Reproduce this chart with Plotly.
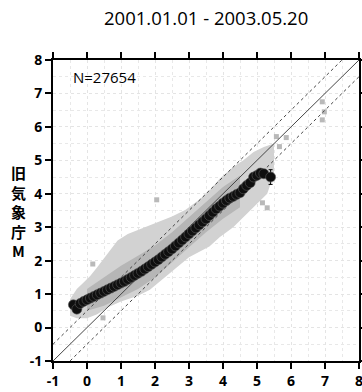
import plotly.graph_objects as go

# Binned mean of old-JMA magnitude per 0.1 step of the new magnitude
mean_x = [-0.4, -0.3, -0.2, -0.1, 0.0, 0.1, 0.2, 0.3, 0.4, 0.5, 0.6, 0.7, 0.8, 0.9,
          1.0, 1.1, 1.2, 1.3, 1.4, 1.5, 1.6, 1.7, 1.8, 1.9, 2.0, 2.1, 2.2, 2.3, 2.4,
          2.5, 2.6, 2.7, 2.8, 2.9, 3.0, 3.1, 3.2, 3.3, 3.4, 3.5, 3.6, 3.7, 3.8, 3.9,
          4.0, 4.1, 4.2, 4.3, 4.4, 4.5, 4.6, 4.7, 4.8, 4.9, 5.0, 5.1, 5.2, 5.4]
mean_y = [0.68, 0.55, 0.72, 0.78, 0.83, 0.88, 0.93, 0.98, 1.03, 1.08, 1.13, 1.18, 1.23, 1.28,
          1.33, 1.38, 1.44, 1.50, 1.56, 1.62, 1.68, 1.75, 1.82, 1.89, 1.96, 2.03, 2.11, 2.19, 2.27,
          2.35, 2.44, 2.53, 2.62, 2.71, 2.80, 2.89, 2.98, 3.07, 3.16, 3.25, 3.35, 3.45, 3.55, 3.63,
          3.72, 3.80, 3.87, 3.92, 3.98, 4.03, 4.15, 4.25, 4.33, 4.50, 4.55, 4.62, 4.60, 4.50]

# Outline of the region covered by individual events
cloud_upper_x = [-0.5, -0.3, -0.1, 0.1, 0.3, 0.6, 0.9, 1.2, 1.5, 1.8, 2.2, 2.5, 2.9, 3.3,
                 3.5, 3.7, 3.9, 4.3, 4.6, 4.9, 5.2, 5.5]
cloud_upper_y = [0.85, 1.15, 1.35, 1.55, 1.80, 2.20, 2.60, 2.80, 2.92, 3.05, 3.22, 3.32, 3.52, 3.82,
                 4.00, 4.20, 4.45, 4.80, 5.00, 5.25, 5.40, 5.50]
cloud_lower_x = [5.5, 5.3, 5.0, 4.7, 4.3, 3.9, 3.6, 3.0, 2.4, 1.85, 1.5, 1.0, 0.6, 0.3, 0.0, -0.3, -0.5]
cloud_lower_y = [4.60, 4.00, 3.70, 3.40, 3.00, 2.70, 2.42, 2.10, 1.60, 1.13, 0.95, 0.78, 0.60, 0.40, 0.28, 0.28, 0.35]

# Denser core of the event distribution
core_upper_x = [0.0, 0.5, 1.0, 1.5, 2.0, 2.5, 3.0, 3.5, 4.0, 4.5]
core_upper_y = [1.15, 1.50, 1.85, 2.15, 2.45, 2.85, 3.30, 3.75, 4.20, 4.55]
core_lower_x = [4.5, 4.0, 3.5, 3.0, 2.5, 2.0, 1.5, 1.0, 0.5, 0.0]
core_lower_y = [3.60, 3.25, 2.85, 2.40, 1.95, 1.50, 1.15, 0.90, 0.65, 0.50]

# Isolated events outside the main cloud
outlier_x = [0.17, 0.47, 2.05, 5.16, 5.30, 5.57, 5.66, 5.86, 6.92, 6.98, 6.92]
outlier_y = [1.90, 0.29, 3.82, 3.73, 3.58, 5.71, 5.41, 5.68, 6.75, 6.45, 6.21]

# Error bar on the last bin
err_x = [5.4]
err_y = [4.5]
err_size = [0.22]

axis_ticks = [-1, 0, 1, 2, 3, 4, 5, 6, 7, 8]
axis_labels = ["-1", "0", "1", "2", "3", "4", "5", "6", "7", "8"]
ref_x = [-1, 8]
ref_offset = 0.5

title_text = "2001.01.01 - 2003.05.20"
count_text = "N=27654"
ylabel_chars = ["旧", "気", "象", "庁", "M"]

fig = go.Figure()

fig.add_trace(go.Scatter(
    x=cloud_upper_x + cloud_lower_x, y=cloud_upper_y + cloud_lower_y,
    mode="lines", fill="toself", fillcolor="rgb(210,210,210)",
    line=dict(width=0), hoverinfo="skip", showlegend=False))
fig.add_trace(go.Scatter(
    x=core_upper_x + core_lower_x, y=core_upper_y + core_lower_y,
    mode="lines", fill="toself", fillcolor="rgb(182,182,182)",
    line=dict(width=0), hoverinfo="skip", showlegend=False))

fig.add_trace(go.Scatter(
    x=outlier_x, y=outlier_y, mode="markers",
    marker=dict(symbol="square", size=5, color="rgb(185,185,185)"),
    showlegend=False))

fig.add_trace(go.Scatter(
    x=ref_x, y=ref_x, mode="lines",
    line=dict(color="rgb(70,70,70)", width=1), showlegend=False))
fig.add_trace(go.Scatter(
    x=ref_x, y=[v + ref_offset for v in ref_x], mode="lines",
    line=dict(color="rgb(70,70,70)", width=1, dash="dot"), showlegend=False))
fig.add_trace(go.Scatter(
    x=ref_x, y=[v - ref_offset for v in ref_x], mode="lines",
    line=dict(color="rgb(70,70,70)", width=1, dash="dot"), showlegend=False))

fig.add_trace(go.Scatter(
    x=err_x, y=err_y, mode="markers",
    error_y=dict(type="data", array=err_size, color="black", thickness=1, width=2),
    marker=dict(size=1, color="black"), showlegend=False))

fig.add_trace(go.Scatter(
    x=mean_x, y=mean_y, mode="markers",
    marker=dict(size=10, color="rgb(15,15,15)", line=dict(width=0.6, color="rgb(90,90,90)")),
    showlegend=False))

tick_font = dict(family="Open Sans", size=14, color="black", weight="bold")
half_steps = [v + 0.5 for v in axis_ticks[:-1]]
axis_common = dict(
    range=[-1, 8], tickvals=axis_ticks, ticktext=axis_labels, automargin=False,
    ticklabeloverflow="allow",
    showline=True, linewidth=2, linecolor="black", mirror="ticks",
    ticks="outside", ticklen=6, tickwidth=1.5, tickcolor="black",
    showgrid=True, gridcolor="rgb(228,228,228)", griddash="dot", gridwidth=1,
    zeroline=False, tickfont=tick_font, fixedrange=True,
    minor=dict(tickvals=half_steps, ticks="", showgrid=True,
               gridcolor="rgb(232,232,232)", griddash="dot"))

fig.update_xaxes(**axis_common)
fig.update_yaxes(**axis_common)

fig.add_annotation(text=title_text, xref="paper", yref="paper", x=0.5, y=1 + 42 / 301,
                   showarrow=False, xanchor="center", yanchor="middle",
                   font=dict(family="Open Sans", size=18.5, color="black"))
fig.add_annotation(text=count_text, xref="x", yref="y", x=-0.47, y=7.5,
                   showarrow=False, xanchor="left", yanchor="middle",
                   font=dict(family="Open Sans", size=15, color="black"))

# Vertical axis title, one character per line
fig.add_annotation(text="<br>".join(ylabel_chars), xref="paper", yref="paper",
                   x=-35 / 306, y=150 / 301,
                   showarrow=False, xanchor="center", yanchor="middle",
                   font=dict(family="Noto Sans CJK JP", size=15, color="black", weight="bold"))

fig.update_layout(
    width=362, height=392,
    margin=dict(l=53, r=3, t=60, b=31, pad=0),
    paper_bgcolor="white", plot_bgcolor="white",
    showlegend=False)

fig.write_html("out.html")
